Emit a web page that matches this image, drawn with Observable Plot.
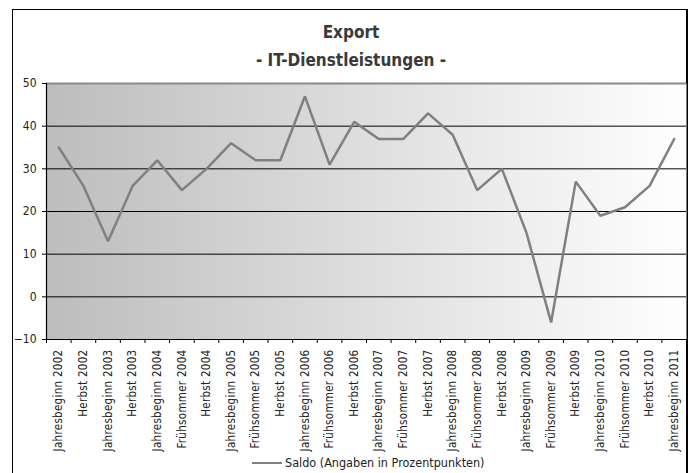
<!DOCTYPE html>
<html><head><meta charset="utf-8">
<script src="https://cdn.jsdelivr.net/npm/d3@7"></script>
<script src="https://cdn.jsdelivr.net/npm/@observablehq/plot@0.6"></script>
<style>
body{margin:0;width:692px;height:473px;overflow:hidden;background:#fff;font-family:"DejaVu Sans Condensed","DejaVu Sans",sans-serif;position:relative;}
#frame{position:absolute;left:12px;top:9px;width:673px;height:480px;border:1px solid #000;border-right-width:2px;}
.title{position:absolute;left:0;width:702px;text-align:center;color:#3a3a3a;font-size:17px;line-height:20px;font-weight:bold;}
#t1{top:22px;}
#t2{top:50px;}
#chart{position:absolute;left:0;top:70px;}
#chart g[aria-label="x-axis tick label"] text{letter-spacing:0.3px;}
#legend{position:absolute;left:252px;top:455px;font-size:12.5px;color:#222;display:flex;align-items:center;white-space:nowrap;}
#legend .sw{display:inline-block;width:30px;height:2px;background:#808080;margin-right:3px;}
</style></head>
<body>
<div id="frame"></div>
<div class="title" id="t1">Export</div>
<div class="title" id="t2">- IT-Dienstleistungen -</div>
<div id="chart"></div>
<div id="legend"><span class="sw"></span><span>Saldo (Angaben in Prozentpunkten)</span></div>
<script>
const categories = ["Jahresbeginn 2002","Herbst 2002","Jahresbeginn 2003","Herbst 2003","Jahresbeginn 2004","Frühsommer 2004","Herbst 2004","Jahresbeginn 2005","Frühsommer 2005","Herbst 2005","Jahresbeginn 2006","Frühsommer 2006","Herbst 2006","Jahresbeginn 2007","Frühsommer 2007","Herbst 2007","Jahresbeginn 2008","Frühsommer 2008","Herbst 2008","Jahresbeginn 2009","Frühsommer 2009","Herbst 2009","Jahresbeginn 2010","Frühsommer 2010","Herbst 2010","Jahresbeginn 2011"];
const saldo = [35,26,13,26,32,25,30,36,32,32,47,31,41,37,37,43,38,25,30,15,-6,27,19,21,26,37];
const yTicks = [-10,0,10,20,30,40,50];
const gridValues = [0,10,20,30,40];
const seriesName = "Saldo (Angaben in Prozentpunkten)";

const data = categories.map((c,i)=>({i, c, v: saldo[i]}));
const n = categories.length;
const boundaries = d3.range(n + 1).map(k => k - 0.5);

const plot = Plot.plot({
  width: 692,
  height: 400,
  marginTop: 13,
  marginBottom: 131,
  marginLeft: 46,
  marginRight: 6,
  style: {fontFamily: '"DejaVu Sans Condensed","DejaVu Sans",sans-serif', color: "#222", background: "transparent"},
  x: {type: "linear", domain: [-0.5, n - 0.5]},
  y: {domain: [-10, 50]},
  marks: [
    Plot.frame({fill: "url(#bgGrad)", stroke: "none"}),
    Plot.ruleY(gridValues, {stroke: "#000", strokeWidth: 1}),
    Plot.ruleY([50], {stroke: "#8a8a8a", strokeWidth: 2}),
    Plot.ruleY([-10], {stroke: "#000", strokeWidth: 1.2}),
    Plot.ruleX([-0.5], {stroke: "#000", strokeWidth: 1.2}),
    Plot.axisY({ticks: yTicks, tickSize: 4, tickPadding: 6, fontSize: 12, label: null, stroke: "#000"}),
    Plot.axisX({ticks: boundaries, tickSize: 4, tickFormat: () => "", label: null, stroke: "#000"}),
    Plot.axisX({ticks: d3.range(n), tickSize: 0, tickPadding: 10, tickRotate: -90, fontSize: 11.5, label: null, tickFormat: i => categories[i]}),
    Plot.line(data, {x: "i", y: "v", stroke: "#808080", strokeWidth: 2.5, strokeLinejoin: "miter"})
  ]
});
const svg = d3.select(plot);
const defs = svg.insert("defs", ":first-child");
const g = defs.append("linearGradient").attr("id", "bgGrad").attr("x1", "0").attr("x2", "1").attr("y1", "0").attr("y2", "0");
g.append("stop").attr("offset", "0").attr("stop-color", "#bdbdbd");
g.append("stop").attr("offset", "1").attr("stop-color", "#ffffff");
document.getElementById("chart").appendChild(plot);
</script>
</body></html>
